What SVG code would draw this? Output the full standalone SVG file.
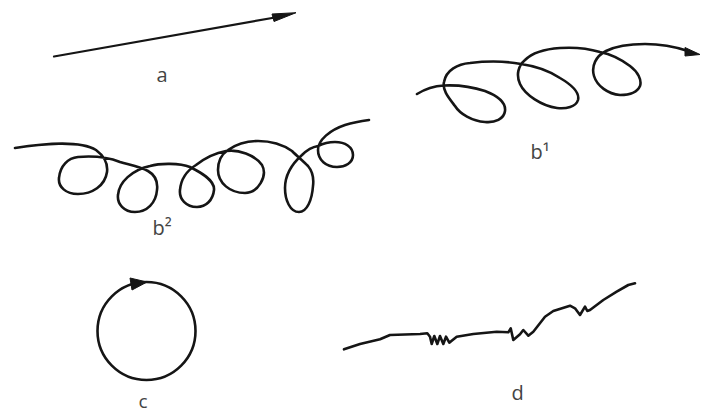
<svg xmlns="http://www.w3.org/2000/svg" width="701" height="414" viewBox="0 0 701 414">
<style>
.s{fill:none;stroke:#151515;stroke-width:2.6;stroke-linecap:round;stroke-linejoin:round}
.h{fill:#151515;stroke:#151515;stroke-width:1;stroke-linejoin:round}
.t{font-family:"Open Sans","Liberation Sans",sans-serif;font-size:20px;fill:#444;text-anchor:middle}
</style>
<rect width="701" height="414" fill="#fff"/>
<g id="connectors">
<g id="a">
<path class="s" d="M54,56.5 L278,17" style="stroke-width:2.2"/>
<polygon class="h" points="272,14 296,12.7 274,21.5"/>
<text class="t" x="162" y="81.5">a</text>
</g>
<g id="b1">
<path class="s" d="M417,94 C425,89 435,86 444,85.5 C455,85 470,86 485,91 C498,96 506,103 505,111 C504,119 495,123 485,122 C472,121 460,114 455,106 C449,98 442,90 444,82 C446,70 458,64 470,63 C487,61 505,61 521,64 C535,66 548,70 560,78 C572,85 580,92 578,100 C576,107 566,109 557,108 C542,106 525,95 520,84 C516,75 518,66 525,60 C532,53 545,49 560,48 C575,47 590,49 600,52 C610,54 622,60 630,66 C638,72 642,80 640,86 C637,93 628,95 620,95 C608,94 597,86 594,76 C591,66 596,56 606,51 C616,46 630,44 645,44 C660,44 676,47 688,51"/>
<polygon class="h" points="685,47.5 700,54.5 685,56"/>
<text class="t" x="540" y="158.5">b¹</text>
</g>
<g id="b2">
<path class="s" d="M15,148 C40,144 80,140 96,150 C104,156 108,164 107,172 C105,186 92,194 78,194 C66,194 58,187 59,178 C60,166 68,158 78,157 C90,156 105,156 120,162 C130,165 140,167 148,171 C155,175 158,182 157,190 C156,203 147,212 135,212 C124,212 117,204 118,195 C119,182 132,170 150,166 C160,163 180,163 190,167 C200,172 215,180 214,190 C213,200 206,207 197,207 C186,207 179,199 180,190 C181,178 188,170 196,165 C205,158 215,153 226,151 C238,149 255,155 262,165 C268,176 258,193 245,193 C230,193 218,183 218,170 C218,160 222,154 228,150 C238,143 250,141 258,141 C270,141 282,144 292,151 C297,156 303,161 308,166 C313,172 314,178 313,186 C312,200 307,212 299,212 C290,212 285,200 285,188 C285,175 293,163 302,155 C307,150 312,147 318,146 C322,144 328,142 335,142 C345,142 353,147 353,155 C353,163 345,167 337,167 C326,167 318,160 318,150 C318,140 330,130 345,125 C355,122 362,121 369,120"/>
<text class="t" x="162" y="235">b²</text>
</g>
<g id="c">
<circle class="s" cx="146.5" cy="331" r="49"/>
<polygon class="h" points="130,278 147,282 132,290"/>
<text class="t" x="143" y="408" style="font-size:19px">c</text>
</g>
<g id="d">
<path class="s" style="stroke-width:2.6" d="M344,349.3 L360,344 L380,339.3 L390,335 L420,334 L427.3,333.3 L430,336.7 L431.7,344 L434.3,336 L437.3,344 L440,336 L443.3,344 L446,336.7 L449.3,342.7 L451.7,340.7 L456.7,336.7 L473.3,334 L496.7,331.7 L508.3,332.3 L510.7,328.3 L513.3,340 L520,334.3 L523.3,330 L528.3,335.7 L533.3,331.7 L545,316.7 L553.3,311 L570,305.7 L575,308.3 L580,315 L585,306.7 L587.3,311 L590,310 L603.3,300 L616.7,291.7 L628.3,285 L635,283.3"/>
<text class="t" x="517.5" y="400">d</text>
</g>
</g>
</svg>
